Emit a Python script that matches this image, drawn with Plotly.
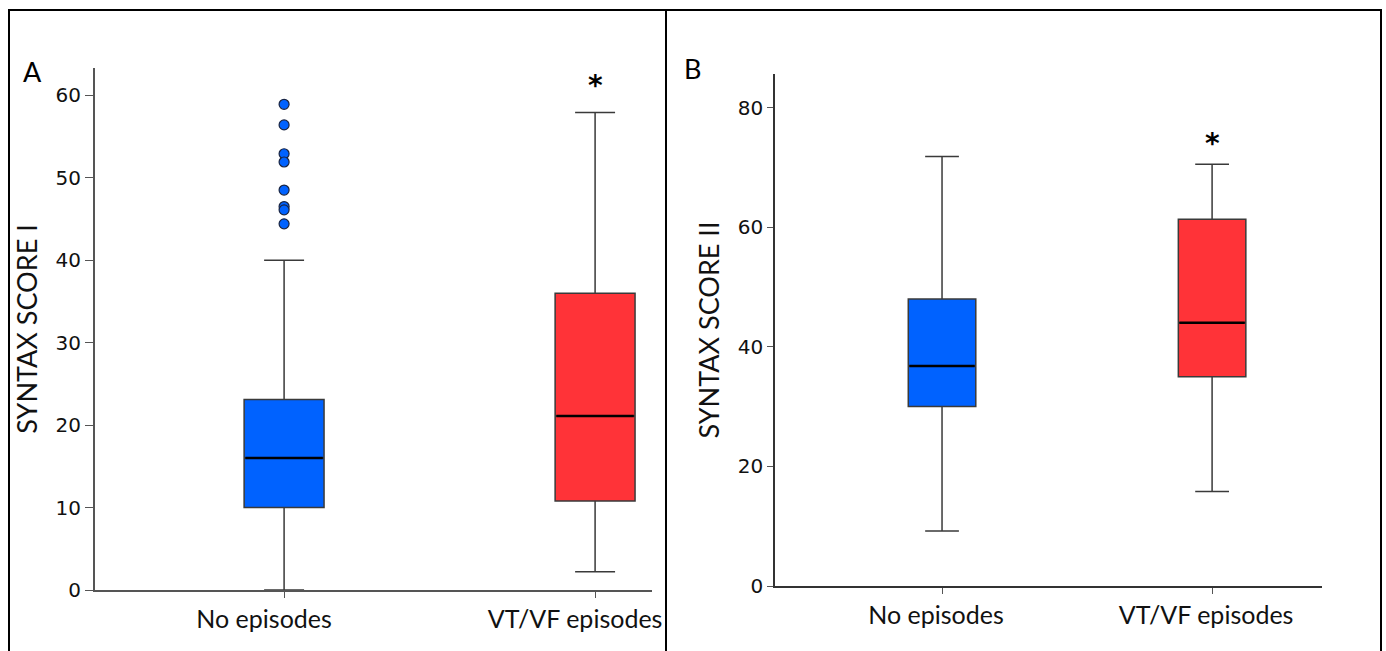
import plotly.graph_objects as go

W, H = 1386, 651

categories = ["No episodes", "VT/VF episodes"]

# Panel A: SYNTAX SCORE I
a_low = [0, 2.2]
a_q1 = [10, 10.8]
a_med = [16, 21.1]
a_q3 = [23.1, 36]
a_high = [40, 57.9]
a_outliers = [58.9, 56.4, 52.9, 51.9, 48.5, 46.5, 46.1, 44.4]
a_star = 61.2

# Panel B: SYNTAX SCORE II
b_low = [9.2, 15.8]
b_q1 = [30, 35]
b_med = [36.8, 44]
b_q3 = [48, 61.3]
b_high = [71.8, 70.5]
b_star = 74

colors = ["#0062FF", "#FF3338"]

fig = go.Figure()

def px_x(p):
    return p / W

def px_y(p):
    return 1 - p / H

def add_panel(xa, ya, low, q1, med, q3, high, bw):
    for i in range(2):
        fig.add_trace(go.Box(
            x=[i], q1=[q1[i]], median=[med[i]], q3=[q3[i]],
            lowerfence=[low[i]], upperfence=[high[i]],
            width=bw, whiskerwidth=0.5,
            fillcolor=colors[i], line=dict(color="#3a3a3a", width=1.5),
            xaxis=xa, yaxis=ya, showlegend=False, hoverinfo="skip",
        ))
        fig.add_trace(go.Scatter(
            x=[i - bw / 2 + 0.004, i + bw / 2 - 0.004], y=[med[i], med[i]],
            mode="lines", line=dict(color="black", width=2.5),
            xaxis=xa, yaxis=ya, showlegend=False, hoverinfo="skip",
        ))

add_panel("x", "y", a_low, a_q1, a_med, a_q3, a_high, 0.257)
fig.add_trace(go.Scatter(
    x=[0] * len(a_outliers), y=a_outliers, mode="markers",
    marker=dict(size=10, color=colors[0], line=dict(color="#1a2440", width=1.2)),
    xaxis="x", yaxis="y", showlegend=False, hoverinfo="skip",
))
add_panel("x2", "y2", b_low, b_q1, b_med, b_q3, b_high, 0.25)

tickfont = dict(family="DejaVu Sans", size=20, color="#111")
catfont = dict(family="Lato", size=25, color="#111")
titlefont = dict(family="Lato", size=27, color="#111")

common = dict(showgrid=False, zeroline=False, automargin=False, ticks="outside")

fig.update_layout(
    template="none",
    width=W, height=H, margin=dict(l=0, r=0, t=0, b=0, autoexpand=False),
    paper_bgcolor="white", plot_bgcolor="white",
    xaxis=dict(domain=[px_x(95), px_x(652)], range=[-0.608, 1.183],
               tickvals=[0, 1], ticktext=categories, tickfont=catfont,
               ticklabelshift=-20,
               showline=True, linecolor="#555", linewidth=2,
               ticklen=6, tickcolor="#555", anchor="y", **common),
    yaxis=dict(domain=[px_y(590), px_y(68)], range=[0, 63.3],
               tickvals=[0, 10, 20, 30, 40, 50, 60], tickfont=tickfont,
               showline=True, linecolor="#555", linewidth=2,
               ticklen=8, tickcolor="#555", anchor="x",
               title=dict(text="SYNTAX SCORE I", font=titlefont, standoff=10), **common),
    xaxis2=dict(domain=[px_x(775), px_x(1322)], range=[-0.6185, 1.407],
                tickvals=[0, 1], ticktext=categories, tickfont=catfont,
                ticklabelshift=-6,
                showline=True, linecolor="#333", linewidth=1.5,
                ticklen=6, tickcolor="#555", anchor="y2", **common),
    yaxis2=dict(domain=[px_y(586), px_y(74)], range=[0, 85.6],
                tickvals=[0, 20, 40, 60, 80], tickfont=tickfont,
                showline=True, linecolor="#333", linewidth=1.5,
                ticklen=6, tickcolor="#555", anchor="x2",
                title=dict(text="SYNTAX SCORE II", font=titlefont, standoff=10), **common),
    shapes=[
        dict(type="rect", xref="paper", yref="paper",
             x0=px_x(9), x1=px_x(1381), y0=px_y(670), y1=px_y(10),
             line=dict(color="black", width=2)),
        dict(type="line", xref="paper", yref="paper",
             x0=px_x(666), x1=px_x(666), y0=px_y(670), y1=px_y(10),
             line=dict(color="black", width=2)),
    ],
    annotations=[
        dict(text="A", xref="paper", yref="paper", x=px_x(21), y=px_y(71),
             xanchor="left", yanchor="middle", showarrow=False,
             font=dict(family="Lato", size=27, color="black")),
        dict(text="B", xref="paper", yref="paper", x=px_x(682), y=px_y(69),
             xanchor="left", yanchor="middle", showarrow=False,
             font=dict(family="Lato", size=27, color="black")),
        dict(text="<b>*</b>", xref="x", yref="y", x=1, y=a_star, showarrow=False,
             yanchor="middle", font=dict(family="DejaVu Sans", size=28, color="black")),
        dict(text="<b>*</b>", xref="x2", yref="y2", x=1, y=b_star, showarrow=False,
             yanchor="middle", font=dict(family="DejaVu Sans", size=28, color="black")),
    ],
)

fig.write_html(
    "out.html",
    config={"displayModeBar": False},
    post_script="document.body.style.margin='0';document.body.style.overflow='hidden';"
                "document.documentElement.style.overflow='hidden';",
)
